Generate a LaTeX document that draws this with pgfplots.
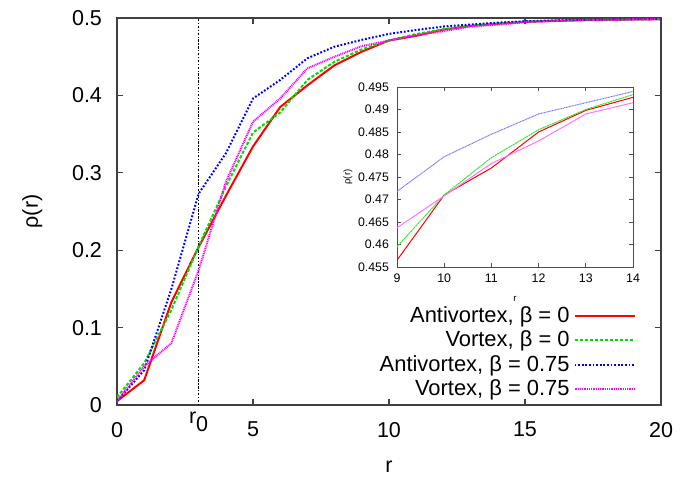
\documentclass[border=0pt]{standalone}
\usepackage{fontspec}
\setmainfont{Liberation Sans}
\usepackage{pgfplots}
\pgfplotsset{compat=1.18}
\usepackage{pgfplotstable}
\definecolor{gpred}{HTML}{FF0000}
\definecolor{gpgreen}{HTML}{00DD00}
\definecolor{gpblue}{HTML}{0000FF}
\definecolor{gpmag}{HTML}{FF00FF}

\pgfplotstableread{
r rho
0 0.005
1 0.032
2 0.133
3 0.204
4 0.270
5 0.334
6 0.385
7 0.413
8 0.439
9 0.4565
10 0.4710
11 0.4770
12 0.4850
13 0.4898
14 0.4927
15 0.4950
16 0.4963
17 0.4972
18 0.4978
19 0.4982
20 0.4985
}\antizero
\pgfplotstableread{
r rho
0 0.010
1 0.054
2 0.123
3 0.205
4 0.282
5 0.352
6 0.378
7 0.420
8 0.4436
9 0.4595
10 0.4710
11 0.4793
12 0.4855
13 0.4900
14 0.4933
15 0.4953
16 0.4965
17 0.4973
18 0.4978
19 0.4982
20 0.4985
}\vortzero
\pgfplotstableread{
r rho
0 0.005
1 0.045
2 0.150
3 0.273
4 0.325
5 0.396
6 0.420
7 0.448
8 0.463
9 0.4718
10 0.4795
11 0.4845
12 0.4890
13 0.4915
14 0.4940
15 0.4958
16 0.4968
17 0.4975
18 0.4980
19 0.4984
20 0.4987
}\antibeta
\pgfplotstableread{
r rho
0 0.005
1 0.050
2 0.080
3 0.174
4 0.288
5 0.366
6 0.396
7 0.435
8 0.450
9 0.4637
10 0.4708
11 0.4780
12 0.4830
13 0.4890
14 0.4915
15 0.4945
16 0.4960
17 0.4970
18 0.4976
19 0.4981
20 0.4984
}\vortbeta

\begin{document}
\begin{tikzpicture}
\begin{axis}[
  name=main, scale only axis, width=272bp, height=193.5bp,
  xmin=0, xmax=20, ymin=0, ymax=0.5,
  xtick={0,5,10,15,20}, ytick={0,0.1,0.2,0.3,0.4,0.5},
  extra x ticks={3}, extra x tick labels={r\raisebox{-0.65ex}{0}},
  extra x tick style={major tick length=0pt, grid=none, xticklabel style={yshift=5bp}},
  yticklabel style={/pgf/number format/fixed, /pgf/number format/precision=1, xshift=-4bp},
  xticklabel style={yshift=-5bp},
  /pgf/number format/assume math mode=true,
  tick align=inside, major tick length=3bp,
  axis line style={line width=0.6bp, black!75},
  every tick/.style={black!75, line width=0.6bp},
  tick label style={font=\fontsize{10.8}{12}\selectfont},
  label style={font=\fontsize{10.8}{12}\selectfont},
  xlabel={r}, ylabel={ρ(r)},
  xlabel style={yshift=-5bp}, ylabel style={yshift=8bp},
  legend style={at={(rel axis cs:0.965,-0.005)}, anchor=south east, draw=none, fill=none,
    font=\fontsize{11}{12}\selectfont, legend plot pos=right, cells={anchor=east},
    row sep=-1.2bp},
  legend image code/.code={\draw[#1] (8bp,0bp) -- (38bp,0bp);},
  every axis plot/.append style={line width=1bp},
]
\addplot[black, line width=0.5bp, dash pattern=on 0.6bp off 0.8bp on 1.2bp off 0.8bp, forget plot] coordinates {(3,0) (3,0.5)};
\addplot[gpred] table[x=r,y=rho] {\antizero};
\addlegendentry{Antivortex, β = 0}
\addplot[gpgreen, dash pattern=on 1.6bp off 0.9bp] table[x=r,y=rho] {\vortzero};
\addlegendentry{Vortex, β = 0}
\addplot[gpblue, dash pattern=on 0.9bp off 0.9bp] table[x=r,y=rho] {\antibeta};
\addlegendentry{Antivortex, β = 0.75}
\addplot[gpmag, dash pattern=on 0.5bp off 0.4bp] table[x=r,y=rho] {\vortbeta};
\addlegendentry{Vortex, β = 0.75}
\end{axis}
\begin{axis}[
  at={(140bp,69bp)}, anchor=south west,
  scale only axis, width=118bp, height=90bp,
  xmin=9, xmax=14, ymin=0.455, ymax=0.495,
  xtick={9,10,11,12,13,14},
  ytick={0.455,0.46,0.465,0.47,0.475,0.48,0.485,0.49,0.495},
  yticklabel style={/pgf/number format/fixed, /pgf/number format/precision=3, xshift=-0.5bp},
  /pgf/number format/assume math mode=true,
  scaled y ticks=false,
  tick align=inside, major tick length=2bp,
  axis line style={line width=0.4bp, black!70},
  every tick/.style={black!70, line width=0.4bp},
  tick label style={font=\fontsize{6.2}{7}\selectfont},
  label style={font=\fontsize{4.8}{5}\selectfont},
  xlabel={r}, ylabel={ρ(r)},
  xlabel style={yshift=0bp}, ylabel style={yshift=-4bp},
  every axis plot/.append style={line width=0.5bp},
]
\addplot[gpred] table[x=r,y=rho] {\antizero};
\addplot[gpgreen!80, dash pattern=on 1bp off 0.3bp] table[x=r,y=rho] {\vortzero};
\addplot[gpblue!55, dash pattern=on 0.5bp off 0.3bp] table[x=r,y=rho] {\antibeta};
\addplot[gpmag!55] table[x=r,y=rho] {\vortbeta};
\end{axis}
\path[use as bounding box] (main.south west) ++(-58.5bp,-33.5bp) rectangle ++(347bp,236bp);
\end{tikzpicture}
\end{document}
